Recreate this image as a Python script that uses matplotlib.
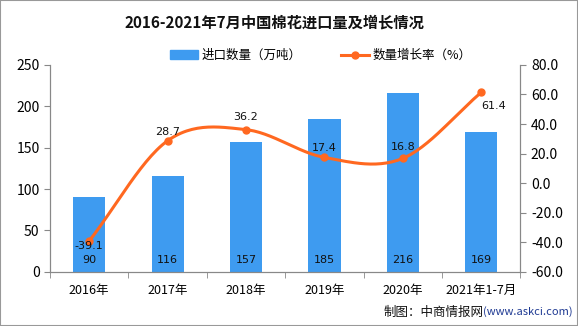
import matplotlib
matplotlib.use("Agg")
import matplotlib.pyplot as plt
import numpy as np
from matplotlib.patches import Patch
from matplotlib.lines import Line2D

plt.rcParams['font.family'] = ['Noto Sans CJK SC', 'DejaVu Sans']

categories = ["2016年", "2017年", "2018年", "2019年", "2020年", "2021年1-7月"]
volume = [90, 116, 157, 185, 216, 169]
growth = [-39.1, 28.7, 36.2, 17.4, 16.8, 61.4]
left_ticks = [0, 50, 100, 150, 200, 250]
right_ticks = [-60, -40, -20, 0, 20, 40, 60, 80]

bar_color = "#3E9BF0"
line_color = "#FF6820"
axis_color = "#888888"
num_font = ['DejaVu Sans']

fig = plt.figure(figsize=(5.78, 3.26), dpi=100)
ax = fig.add_axes([0.0865, 0.166, 0.814, 0.635])
ax2 = ax.twinx()

x = np.arange(len(categories))
ax.bar(x, volume, width=0.41, color=bar_color, zorder=2)
ax.set_xlim(-0.5, len(categories) - 0.5)
ax.set_ylim(0, 250)
ax.set_yticks(left_ticks)
ax.set_xticks(x)
ax.set_xticklabels(categories, fontsize=9)
ax.set_xticks(np.arange(-0.5, len(categories), 1), minor=True)
ax.tick_params(axis='x', which='major', length=0, pad=9)
ax.tick_params(axis='x', which='minor', length=4, color=axis_color)
ax.tick_params(axis='y', length=4, color=axis_color, labelsize=10)

for xi, v in zip(x, volume):
    ax.text(xi, 14.5, f"{v}", ha='center', va='center', fontsize=8, color="#111111",
            family=num_font, zorder=5)

# smooth curve (Catmull-Rom rendering of the series)
def catmull(xs, ys, n=30):
    px = np.concatenate([[2 * xs[0] - xs[1]], xs, [2 * xs[-1] - xs[-2]]])
    py = np.concatenate([[2 * ys[0] - ys[1]], ys, [2 * ys[-1] - ys[-2]]])
    out_x, out_y = [], []
    for i in range(1, len(px) - 2):
        t = np.linspace(0, 1, n)
        for arr, p in ((out_x, px), (out_y, py)):
            p0, p1, p2, p3 = p[i - 1], p[i], p[i + 1], p[i + 2]
            arr.extend(0.5 * ((2 * p1) + (-p0 + p2) * t + (2 * p0 - 5 * p1 + 4 * p2 - p3) * t ** 2
                              + (-p0 + 3 * p1 - 3 * p2 + p3) * t ** 3))
    return np.array(out_x), np.array(out_y)

cx, cy = catmull(x.astype(float), np.array(growth, dtype=float))
ax2.plot(cx, cy, color=line_color, lw=2.2, zorder=3)
ax2.plot(x, growth, 'o', color=line_color, ms=5, zorder=4)
ax2.set_ylim(-60, 80)
ax2.set_yticks(right_ticks)
ax2.set_yticklabels([f"{t:.1f}" for t in right_ticks])
ax2.tick_params(axis='y', length=4, color=axis_color, labelsize=10)

offsets = [(0, -3.5), (0, 6), (0, 9), (0, 7), (0, 8), (9, -10)]
for xi, g, (dx, dy) in zip(x, growth, offsets):
    ax2.annotate(f"{g}", (xi, g), xytext=(dx, dy), textcoords='offset points',
                 ha='center', va='center', fontsize=8, color="#111111", family=num_font, zorder=6)

for a in (ax, ax2):
    a.spines["top"].set_visible(False)
    for s in ("left", "right", "bottom"):
        a.spines[s].set_color(axis_color)

handles = [Patch(color=bar_color, label="进口数量（万吨）"),
           Line2D([0], [0], color=line_color, lw=2.2, marker='o', ms=5, label="数量增长率（%）")]
fig.legend(handles=handles, loc='center', bbox_to_anchor=(0.555, 0.83), ncol=2, frameon=False,
           fontsize=9, handlelength=2.2, handletextpad=0.3, columnspacing=3.2)

fig.text(0.474, 0.93, "2016-2021年7月中国棉花进口量及增长情况", ha='center', va='center',
         fontsize=11, fontweight='bold', color="#111111")
fig.text(0.836, 0.043, "制图：中商情报网", ha='right', va='center', fontsize=9, color="#111111")
fig.text(0.836, 0.043, "(www.askci.com)", ha='left', va='center', fontsize=8, color="#1F3A93")

fig.patches.append(plt.Rectangle((0, 0), 1, 1, transform=fig.transFigure, fill=False,
                                 edgecolor="#999999", lw=1.5))

fig.savefig("out.png", dpi=100)
